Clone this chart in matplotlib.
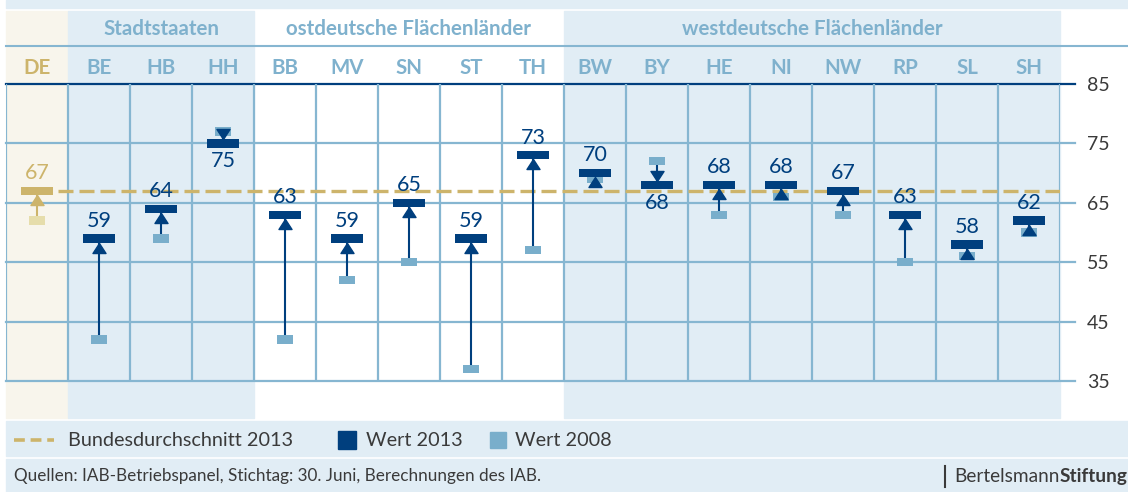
import matplotlib.pyplot as plt
import numpy as np
from matplotlib.patches import Rectangle
from matplotlib.path import Path
from matplotlib.lines import Line2D
from matplotlib import transforms

plt.rcParams['font.family'] = ['Lato', 'DejaVu Sans']

# data
codes = ['DE', 'BE', 'HB', 'HH', 'BB', 'MV', 'SN', 'ST', 'TH',
         'BW', 'BY', 'HE', 'NI', 'NW', 'RP', 'SL', 'SH']
wert_2013 = [67, 59, 64, 75, 63, 59, 65, 59, 73, 70, 68, 68, 68, 67, 63, 58, 62]
wert_2008 = [62, 42, 59, 77, 42, 52, 55, 37, 57, 69, 72, 63, 66, 63, 55, 56, 60]
bund_2013 = 67
gruppen = ['Stadtstaaten', 'ostdeutsche Flächenländer', 'westdeutsche Flächenländer']
gruppen_start = [1, 4, 9]
gruppen_ende = [3, 8, 16]
y_ticks = [35, 45, 55, 65, 75, 85]

# colours
navy = '#003f7e'
light = '#79aecb'
grid_c = '#86b6d1'
bg_blue = '#e1edf5'
cream = '#f8f5ec'
gold = '#cdb46b'
gold_light = '#e6ddab'
hdr = '#7fb1cd'
dark = '#3a3a3a'

W, H = 1128, 492
fig = plt.figure(figsize=(W / 100, H / 100), dpi=100)


def fx(px):
    return px / W


def fy(py):
    return 1 - py / H


ax = fig.add_axes([fx(6), fy(381), fx(1060) - fx(6), fy(84) - fy(381)])
ax.set_xlim(-0.5, len(codes) - 0.5)
ax.set_ylim(35, 85)
ax.patch.set_alpha(0)
for s in ax.spines.values():
    s.set_visible(False)
ax.set_xticks([])
ax.yaxis.tick_right()
ax.set_yticks(y_ticks)
ax.tick_params(axis='y', length=0, pad=19.5, labelsize=14, labelcolor=dark)

blend = transforms.blended_transform_factory(ax.transData, fig.transFigure)

# background bands
fig.add_artist(Rectangle((fx(6), fy(8)), 1 - fx(6), fy(0) - fy(8),
                         transform=fig.transFigure, color=bg_blue, zorder=-2))
fig.add_artist(Rectangle((-0.5, fy(418)), 1, fy(11) - fy(418),
                         transform=blend, color=cream, zorder=-2))
for name, s, e in zip(gruppen, gruppen_start, gruppen_ende):
    if name.startswith('ost'):
        continue
    fig.add_artist(Rectangle((s - 0.5, fy(418)), e - s + 1, fy(11) - fy(418),
                             transform=blend, color=bg_blue, zorder=-2))
fig.add_artist(Line2D([fx(6), 1], [fy(46), fy(46)], transform=fig.transFigure,
                      color=grid_c, lw=1.5, zorder=-1))
fig.add_artist(Rectangle((fx(6), fy(456)), 1 - fx(6), fy(421) - fy(456),
                         transform=fig.transFigure, color=bg_blue, zorder=-2))
fig.add_artist(Rectangle((fx(6), fy(492)), 1 - fx(6), fy(459) - fy(492),
                         transform=fig.transFigure, color=bg_blue, zorder=-2))

# grid
xmax = (1075 - 6) / (1060 - 6)
for v in y_ticks:
    ax.axhline(v, xmin=0, xmax=xmax, clip_on=False,
               color=navy if v == 85 else grid_c, lw=1.6, zorder=1)
ax.vlines(np.arange(-0.5, len(codes)), 35, 85, color=grid_c, lw=1.6, zorder=1)

# header labels
for i, c in enumerate(codes):
    ax.text(i, fy(68), c, transform=blend, ha='center', va='center',
            fontsize=14.8, fontweight='bold', color=gold if c == 'DE' else hdr)
for name, s, e in zip(gruppen, gruppen_start, gruppen_ende):
    ax.text((s + e) / 2, fy(29), name, transform=blend, ha='center', va='center',
            fontsize=14.8, fontweight='bold', color=hdr)

# national average
ax.hlines(bund_2013, 0, len(codes) - 0.5, color=gold, lw=2.4,
          linestyles=[(0, (4.5, 1.8))], zorder=2)

# marks
x = np.arange(len(codes))
bh = 1.4
c13 = [gold] + [navy] * (len(codes) - 1)
c08 = [gold_light] + [light] * (len(codes) - 1)
ax.vlines(x, wert_2008, wert_2013, colors=c13, lw=1.5, zorder=3)
ax.bar(x, bh, width=0.27, bottom=np.array(wert_2008) - bh / 2, color=c08, zorder=4)
ax.bar(x, bh, width=0.53, bottom=np.array(wert_2013) - bh / 2, color=c13, zorder=6)

tri_up = Path([(0, 0.5), (-0.65, -0.5), (0.65, -0.5), (0, 0.5)])
tri_dn = Path([(0, -0.5), (-0.65, 0.5), (0.65, 0.5), (0, -0.5)])
half_px = bh / 2 * (297 / 50)
for i, (v13, v08) in enumerate(zip(wert_2013, wert_2008)):
    up = v13 > v08
    off = -(half_px + 5) if up else (half_px + 5)
    tr = transforms.offset_copy(ax.transData, fig=fig, x=0, y=off, units='dots')
    ax.plot([i], [v13], marker=tri_up if up else tri_dn, markersize=9.4,
            color=c13[i], transform=tr, zorder=5, lw=0)
    lab_c = gold if i == 0 else navy
    if up or v13 == v08:
        ax.annotate(str(v13), (i, v13), xytext=(0, half_px * 0.72 + 2.5),
                    textcoords='offset points', ha='center', va='bottom',
                    fontsize=15.5, color=lab_c, zorder=7)
    else:
        ax.annotate(str(v13), (i, v13), xytext=(0, -(half_px * 0.72 + 2.5)),
                    textcoords='offset points', ha='center', va='top',
                    fontsize=15.5, color=lab_c, zorder=7)

# legend
fig.add_artist(Line2D([fx(14), fx(54)], [fy(440), fy(440)], transform=fig.transFigure,
                      color=gold, lw=2.6, linestyle=(0, (3.0, 1.6))))
fig.text(fx(68), fy(440), 'Bundesdurchschnitt 2013', va='center', fontsize=14.3, color=dark)
fig.add_artist(Rectangle((fx(338), fy(449)), 18 / W, 18 / H,
                         transform=fig.transFigure, color=navy))
fig.text(fx(366), fy(440), 'Wert 2013', va='center', fontsize=14.3, color=dark)
fig.add_artist(Rectangle((fx(490), fy(448)), 16 / W, 16 / H,
                         transform=fig.transFigure, color=light))
fig.text(fx(515), fy(440), 'Wert 2008', va='center', fontsize=14.3, color=dark)

# source
fig.text(fx(14), fy(476), 'Quellen: IAB-Betriebspanel, Stichtag: 30. Juni, Berechnungen des IAB.',
         va='center', fontsize=12.3, color=dark)
fig.add_artist(Line2D([fx(945), fx(945)], [fy(466), fy(487)], transform=fig.transFigure,
                      color=dark, lw=1.5))
t1 = fig.text(fx(954), fy(485), 'Bertelsmann', va='bottom', fontsize=13.7, color=dark)
ax.annotate('Stiftung', xy=(1, 0), xycoords=t1, va='bottom', ha='left',
            fontsize=13.7, fontweight='bold', color=dark, annotation_clip=False)

fig.savefig('out.png', dpi=100)
